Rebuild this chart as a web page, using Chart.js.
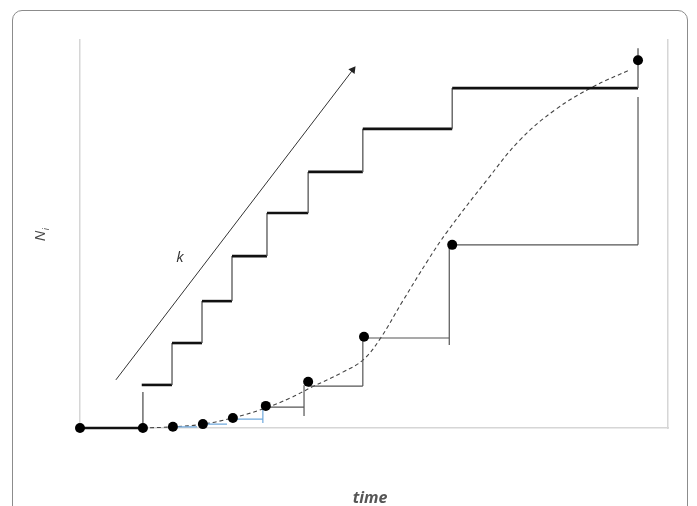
<!DOCTYPE html>
<html>
<head>
<meta charset="utf-8">
<script src="https://cdn.jsdelivr.net/npm/chart.js@4/dist/chart.umd.min.js"></script>
<style>
  body { margin: 0; background: #fff; overflow: hidden; }
  #wrap { position: relative; width: 697px; height: 506px; }
  #frame {
    position: absolute; left: 12px; top: 10px; width: 676px; height: 530px;
    border: 1px solid #8c8c8c; border-radius: 10px; box-sizing: border-box;
  }
  canvas { position: absolute; left: 0; top: 0; }
</style>
</head>
<body>
<div id="wrap">
  <div id="frame"></div>
  <canvas id="chart" width="697" height="506"></canvas>
</div>
<script>
// measured points N_i(t) (black dots)
const dotX = [0, 10.7, 15.8, 20.9, 26.0, 31.6, 38.8, 48.3, 63.3, 94.9];
const dotY = [0, 0, 0.3, 1.0, 2.6, 5.7, 11.9, 23.5, 47.2, 94.8];

// upper staircase (k growing): left edge of each step, level of each step
const stairLeft = [10.5, 15.65, 20.75, 25.85, 31.8, 38.8, 48.1, 63.3];
const stairLevel = [11.1, 21.9, 32.7, 44.3, 55.4, 66.0, 77.1, 87.6];
const stairEndX = 94.9;
const stairTopY = 97.9;

// first flat part before the staircase starts
const baseX = [0, 10.7, 10.7];
const baseY = [0, 0, 9.3];

// small blue steps under the early dots  [x0, y0, x1, y1]
const blueSteps = [
  [15.8, 0.3, 19.9, 0.3],
  [20.9, 1.0, 25.0, 1.0],
  [26.0, 2.3, 31.1, 2.3],
  [31.1, 4.9, 31.1, 1.3]
];

// grey steps between the later dots  [x0, y0, x1, y1]
const greySteps = [
  [31.6, 5.4, 38.1, 5.4],
  [38.1, 3.1, 38.1, 11.0],
  [38.8, 10.8, 48.1, 10.8],
  [48.1, 10.8, 48.1, 23.5],
  [48.3, 23.2, 62.8, 23.2],
  [62.8, 21.4, 62.8, 47.2],
  [63.3, 47.2, 94.9, 47.2],
  [94.9, 47.2, 94.9, 85.3]
];

// dashed fitted curve
const curveX = [10.7, 15.8, 20.9, 26.0, 31.1, 35.7, 39.5, 44.7, 48.1, 51.0, 54.8, 59.2, 62.4, 69.2, 74.8, 80.8, 87.2, 93.5];
const curveY = [0, 0.3, 1.0, 2.6, 4.9, 7.7, 10.6, 14.4, 17.5, 22.9, 32.5, 43.3, 50.5, 63.9, 74.2, 82.0, 87.9, 92.3];

// arrow for k
const arrowX = [6.1, 46.4];
const arrowY = [12.4, 92.3];

function toPoints(xs, ys) {
  return xs.map((x, i) => ({ x: x, y: ys[i] }));
}

// turn a list of segments into one path broken by nulls
function segPoints(list) {
  const pts = [];
  list.forEach(s => {
    pts.push({ x: s[0], y: s[1] });
    pts.push({ x: s[2], y: s[3] });
    pts.push({ x: s[2], y: null });
  });
  return pts;
}

function stairPoints() {
  const pts = [];
  stairLeft.forEach((x, i) => {
    const right = i + 1 < stairLeft.length ? stairLeft[i + 1] : stairEndX;
    pts.push({ x: x, y: stairLevel[i] });
    pts.push({ x: right, y: stairLevel[i] });
  });
  pts.push({ x: stairEndX, y: stairTopY });
  return pts;
}

// horizontal pieces thick black, vertical pieces thin grey
const stairSegment = {
  borderWidth: ctx => ctx.p0.parsed.y === ctx.p1.parsed.y ? 2.6 : 1.3,
  borderColor: ctx => ctx.p0.parsed.y === ctx.p1.parsed.y ? '#111' : '#555'
};

const labelPlugin = {
  id: 'labels',
  afterDraw(chart) {
    const c = chart.ctx;
    const xs = chart.scales.x, ys = chart.scales.y;
    c.save();
    // k next to the arrow
    c.fillStyle = '#333';
    c.font = 'italic 15px "Open Sans", sans-serif';
    c.textAlign = 'center';
    c.textBaseline = 'middle';
    c.fillText('k', xs.getPixelForValue(17.0), ys.getPixelForValue(43.8));

    // time
    c.fillStyle = '#555';
    c.font = 'italic bold 16px "Open Sans", sans-serif';
    c.fillText('time', (xs.left + xs.right) / 2 - 4, 498);

    // N_i rotated
    c.translate(41, 236);
    c.rotate(-Math.PI / 2);
    c.fillStyle = '#4a4a4a';
    c.font = 'italic 15px "Open Sans", sans-serif';
    c.textAlign = 'center';
    c.fillText('N', 0, 0);
    c.font = 'italic 9px "Open Sans", sans-serif';
    c.fillText('i', 7, 5);
    c.restore();
  }
};

const ctx = document.getElementById('chart').getContext('2d');
new Chart(ctx, {
  type: 'line',
  data: {
    datasets: [
      {
        data: toPoints(dotX, dotY),
        showLine: false,
        pointRadius: 5,
        pointBackgroundColor: '#000',
        pointBorderWidth: 0,
        clip: false
      },
      {
        data: toPoints(arrowX, arrowY),
        borderColor: '#333',
        borderWidth: 1,
        pointRadius: [0, 4.5],
        pointStyle: 'triangle',
        pointRotation: 37,
        pointBackgroundColor: '#222',
        pointBorderColor: '#222',
        pointBorderWidth: 0,
        clip: false
      },
      {
        data: toPoints(baseX, baseY),
        pointRadius: 0,
        segment: stairSegment,
        clip: false
      },
      {
        data: stairPoints(),
        pointRadius: 0,
        segment: stairSegment,
        clip: false
      },
      {
        data: segPoints(blueSteps),
        borderColor: '#6fa8dc',
        borderWidth: 1.2,
        pointRadius: 0,
        spanGaps: false
      },
      {
        data: segPoints(greySteps),
        borderColor: '#555',
        borderWidth: 1.2,
        pointRadius: 0,
        spanGaps: false,
        clip: false
      },
      {
        data: toPoints(curveX, curveY),
        borderColor: '#444',
        borderWidth: 1.1,
        borderDash: [4, 3],
        tension: 0.4,
        pointRadius: 0,
        clip: false
      }
    ]
  },
  options: {
    responsive: false,
    animation: false,
    layout: { padding: { left: 80, top: 40, right: 29, bottom: 78 } },
    plugins: { legend: { display: false }, tooltip: { enabled: false } },
    scales: {
      x: {
        type: 'linear', min: 0, max: 100,
        ticks: { display: false },
        grid: { display: false, drawTicks: false },
        border: { display: true, color: '#d6d6d6', width: 1.5 }
      },
      y: {
        type: 'linear', min: 0, max: 100,
        ticks: { display: false },
        grid: { display: false, drawTicks: false },
        border: { display: true, color: '#d6d6d6', width: 1.5 }
      },
      yR: {
        type: 'linear', position: 'right', min: 0, max: 100,
        ticks: { display: false },
        grid: { display: false, drawTicks: false },
        border: { display: true, color: '#d6d6d6', width: 1.5 }
      }
    }
  },
  plugins: [labelPlugin]
});
</script>
</body>
</html>
